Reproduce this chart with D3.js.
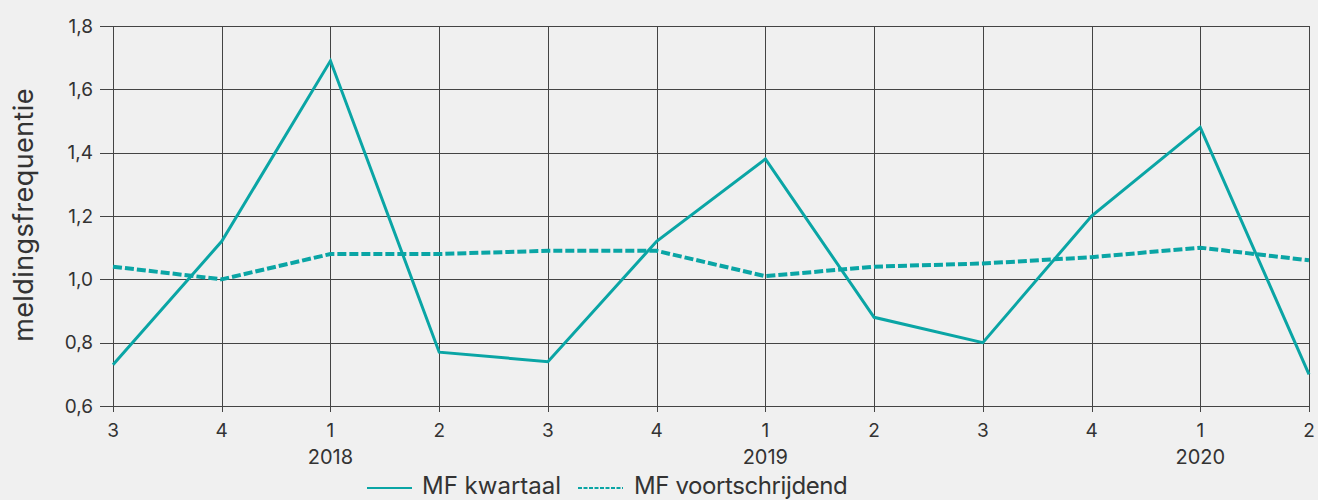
<!DOCTYPE html>
<meta charset="utf-8">
<script src="https://d3js.org/d3.v7.min.js"></script>
<style>
    body { margin: 0; background: #f0f0f0; font-family: 'Inter', 'Roboto', sans-serif; }
    svg text { fill: #333; }
</style>
<div id="chart"></div>
<script>
    // quarters from Q3 2017 to Q2 2020
    var quarters = ["3", "4", "1", "2", "3", "4", "1", "2", "3", "4", "1", "2"];
    var yearLabels = [null, null, "2018", null, null, null, "2019", null, null, null, "2020", null];
    var kwartaal = [0.73, 1.12, 1.69, 0.77, 0.74, 1.12, 1.38, 0.88, 0.80, 1.20, 1.48, 0.70];
    var voortschrijdend = [1.04, 1.00, 1.08, 1.08, 1.09, 1.09, 1.01, 1.04, 1.05, 1.07, 1.10, 1.06];
    var yTicks = [0.6, 0.8, 1.0, 1.2, 1.4, 1.6, 1.8];

    var W = 1318, H = 500;
    var margin = {top: 26, right: 9, bottom: 94, left: 113};
    var width = W - margin.left - margin.right,
        height = H - margin.top - margin.bottom;
    var color = "#0aa5a5";

    var svg = d3.select("#chart").append("svg")
        .attr("width", W).attr("height", H);
    var g = svg.append("g")
        .attr("transform", "translate(" + margin.left + "," + margin.top + ")");

    var x = d3.scaleLinear().domain([0, quarters.length - 1]).range([0, width]);
    var y = d3.scaleLinear().domain([0.6, 1.8]).range([height, 0]);

    // horizontal grid + y ticks
    g.selectAll(".hgrid").data(yTicks).enter().append("line")
        .attr("x1", -13).attr("x2", width)
        .attr("y1", function(d) { return Math.round(y(d)) + 0.5; })
        .attr("y2", function(d) { return Math.round(y(d)) + 0.5; })
        .attr("stroke", "#444").attr("stroke-width", 1);
    g.selectAll(".ylab").data(yTicks).enter().append("text")
        .attr("x", -20).attr("y", function(d) { return y(d); })
        .attr("dy", "0.35em")
        .attr("text-anchor", "end")
        .style("font-size", "19px")
        .text(function(d) { return d3.format(".1f")(d).replace(".", ","); });

    // vertical grid + x ticks
    g.selectAll(".vgrid").data(quarters).enter().append("line")
        .attr("x1", function(d, i) { return Math.round(x(i)) + 0.5; })
        .attr("x2", function(d, i) { return Math.round(x(i)) + 0.5; })
        .attr("y1", 0).attr("y2", height + 6)
        .attr("stroke", "#444").attr("stroke-width", 1);
    g.selectAll(".xlab").data(quarters).enter().append("text")
        .attr("x", function(d, i) { return x(i); })
        .attr("y", height + 31)
        .attr("text-anchor", "middle")
        .style("font-size", "19px")
        .text(function(d) { return d; });
    g.selectAll(".yearlab").data(yearLabels).enter().append("text")
        .attr("x", function(d, i) { return x(i); })
        .attr("y", height + 58)
        .attr("text-anchor", "middle")
        .style("font-size", "20px")
        .text(function(d) { return d || ""; });

    // axis title
    svg.append("text")
        .attr("transform", "translate(33,215) rotate(-90)")
        .attr("text-anchor", "middle")
        .style("font-size", "27px")
        .style("letter-spacing", "0.4px")
        .text("meldingsfrequentie");

    var line = d3.line()
        .x(function(d, i) { return x(i); })
        .y(function(d) { return y(d); });

    g.append("path").datum(voortschrijdend)
        .attr("d", line)
        .attr("fill", "none").attr("stroke", color)
        .attr("stroke-width", 4).attr("stroke-dasharray", "9,3");
    g.append("path").datum(kwartaal)
        .attr("d", line)
        .attr("fill", "none").attr("stroke", color)
        .attr("stroke-width", 3).attr("stroke-linejoin", "miter");

    // legend
    var leg = svg.append("g").attr("transform", "translate(0,488)");
    leg.append("line").attr("x1", 367).attr("x2", 412).attr("y1", 0).attr("y2", 0)
        .attr("stroke", color).attr("stroke-width", 2);
    leg.append("text").attr("x", 422).attr("y", 6)
        .style("font-size", "24px").text("MF kwartaal");
    leg.append("line").attr("x1", 578).attr("x2", 623).attr("y1", 0).attr("y2", 0)
        .attr("stroke", color).attr("stroke-width", 2).attr("stroke-dasharray", "4,1.5");
    leg.append("text").attr("x", 634).attr("y", 6)
        .style("font-size", "24px").style("letter-spacing", "-0.4px").text("MF voortschrijdend");
</script>
